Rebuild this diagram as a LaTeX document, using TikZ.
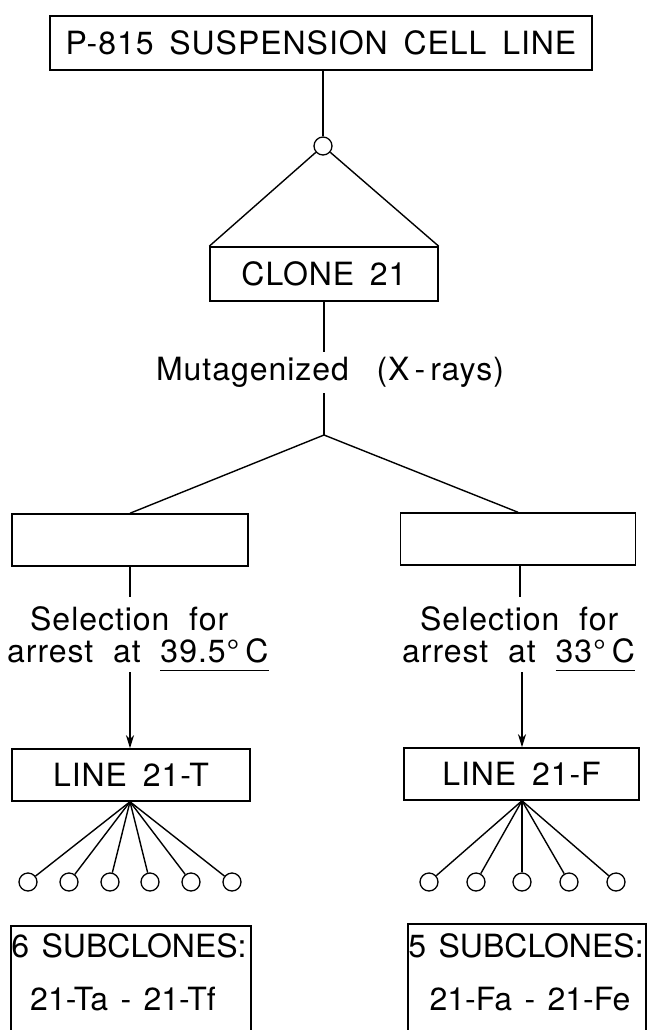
\documentclass[tikz,border=0pt]{standalone}
\usepackage{fontspec}
\setmainfont{TeX Gyre Heros}[LetterSpace=3,WordSpace=1.6]
\newfontfamily\tightfont{TeX Gyre Heros}[WordSpace=1.4]
\usetikzlibrary{arrows.meta}
\newcommand\ulin[1]{\setbox0\hbox{#1}\rlap{\rule[-9pt]{\wd0}{1.4pt}}\box0}
\begin{document}
\begin{tikzpicture}[x=1pt,y=-1pt,
  font=\fontsize{32}{34}\selectfont,
  box/.style={draw,line width=1.5pt,inner sep=0pt},
  txt/.style={inner sep=0pt},
  circ/.style={circle,draw,line width=1.3pt,minimum size=18pt,inner sep=0pt},
  ln/.style={line width=1.4pt},
  arr/.style={line width=1.4pt,-{Stealth[length=13pt,width=8pt,inset=4pt]}}]
\clip (0,0) rectangle (647,1030);
\fill[white] (0,0) rectangle (647,1030);
% top
\node[box,minimum width=542pt,minimum height=54pt] (top) at (321,43) {P-815 SUSPENSION CELL LINE};
\node[circ] (c0) at (323,146) {};
\node[box,minimum width=228pt,minimum height=54pt] (clone) at (324,274) {CLONE 21};
\draw[ln] (c0 |- top.south) -- (c0);
\draw[ln] (c0) -- (clone.north west);
\draw[ln] (c0) -- (clone.north east);
% mutagenized
\node[txt] (mut) at (330,372) {Mutagenized\hspace{12pt} (X\hspace{5pt}-\hspace{5pt}rays)};
\coordinate (m1) at (324,352);
\coordinate (m2) at (324,393);
\coordinate (br) at (324,435);
\draw[ln] (clone.south) -- (m1);
\draw[ln] (m2) -- (br);
% empty boxes
\node[box,minimum width=236pt,minimum height=52pt] (lbox) at (130,540) {};
\node[box,minimum width=235pt,minimum height=52pt] (rbox) at (518,539) {};
\draw[ln] (br) -- (lbox.north);
\draw[ln] (br) -- (rbox.north);
% selection texts
\coordinate (ls1) at (130,597);
\coordinate (rs1) at (520,597);
\draw[ln] (lbox.south) -- (ls1);
\draw[ln] (rbox.south -| rs1) -- (rs1);
\node[txt,anchor=base west] (lsel) at (30,630) {Selection\hspace{4pt} for};
\node[txt,anchor=base west] (larr) at (7,662) {arrest\hspace{4pt} at\hspace{4pt} \ulin{39.5°\hspace{6pt}C}};
\node[txt,anchor=base west] (rsel) at (420,630) {Selection\hspace{4pt} for};
\node[txt,anchor=base west] (rarr) at (402,662) {arrest\hspace{4pt} at\hspace{4pt} \ulin{33°\hspace{6pt}C}};
% line boxes
\node[box,minimum width=238pt,minimum height=52pt] (lt) at (131,775) {LINE 21-T};
\node[box,minimum width=235pt,minimum height=52pt] (lf) at (521.5,774) {LINE 21-F};
\coordinate (ls2) at (130,672);
\coordinate (rs2) at (522,672);
\draw[arr] (ls2) -- (ls2 |- lt.north);
\draw[arr] (rs2) -- (rs2 |- lf.north);
% subclone circles
\foreach \i/\x in {1/28,2/69,3/110,4/150,5/191,6/232}{
  \node[circ] (t\i) at (\x,882) {};
  \draw[ln] (lt.south -| 130,0) -- (t\i);
}
\foreach \i/\x in {1/429,2/476,3/522,4/569,5/616}{
  \node[circ] (f\i) at (\x,882) {};
  \draw[ln] (lf.south -| 522,0) -- (f\i);
}
% subclone boxes
\node[box,minimum width=240pt,minimum height=120pt,anchor=north west] (ltb) at (10,925) {};
\node[box,minimum width=238pt,minimum height=120pt,anchor=north west] (rfb) at (407,923) {};
\node[txt,anchor=base,font=\tightfont\fontsize{32}{34}\selectfont] (lt1) at (129,957) {6 SUBCLONES:};
\node[txt,anchor=base,font=\tightfont\fontsize{32}{34}\selectfont] (lt2) at (123,1010) {21-Ta - 21-Tf};
\node[txt,anchor=base,font=\tightfont\fontsize{32}{34}\selectfont] (rf1) at (526,957) {5 SUBCLONES:};
\node[txt,anchor=base,font=\tightfont\fontsize{32}{34}\selectfont] (rf2) at (530,1010) {21-Fa - 21-Fe};
\end{tikzpicture}
\end{document}
